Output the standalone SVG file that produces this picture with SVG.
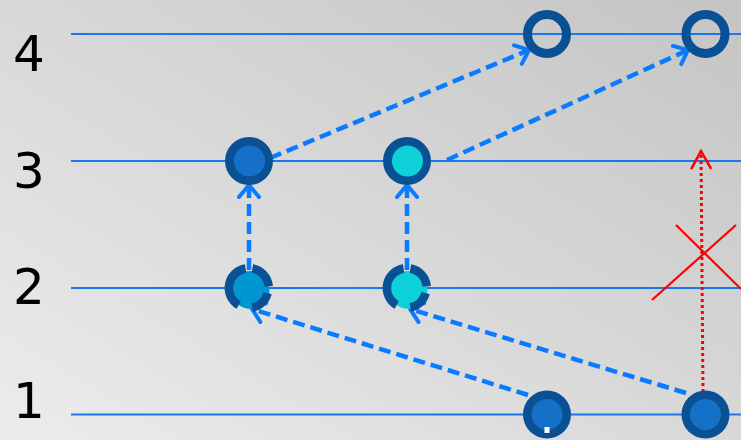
<svg xmlns="http://www.w3.org/2000/svg" width="741" height="440" viewBox="0 0 741 440">
  <defs>
    <linearGradient id="bg" x1="1" y1="0" x2="0" y2="1">
      <stop offset="0" stop-color="#c4c4c4"/>
      <stop offset="0.55" stop-color="#dadada"/>
      <stop offset="1" stop-color="#ececec"/>
    </linearGradient>
    <marker id="ah" markerUnits="userSpaceOnUse" markerWidth="30" markerHeight="30" refX="14" refY="12" orient="auto" viewBox="0 0 30 30">
      <path d="M2,2 L14,12 L2,22" fill="none" stroke="#0a7aff" stroke-width="4" stroke-linecap="round" stroke-linejoin="round"/>
    </marker>
    <marker id="ahr" markerUnits="userSpaceOnUse" markerWidth="40" markerHeight="40" refX="20" refY="15" orient="auto" viewBox="0 0 40 40">
      <path d="M2,5 L20,15 L2,25" fill="none" stroke="#ff0000" stroke-width="2.5"/>
    </marker>
  </defs>
  <style>
    .lvl { stroke: #1a78ea; stroke-width: 2.2; }
    .num { font-family: "DejaVu Sans", Verdana, sans-serif; font-size: 50px; fill: #000; text-anchor: middle; }
    .ring { fill: none; stroke: #0a5094; stroke-width: 9; }
    .arc { fill: none; stroke: #0a5094; stroke-width: 8.5; }
    .blue { fill: #1570c8; }
    .cyan { fill: #0ed0d8; }
    .teal { fill: #0096d2; }
    .conn { fill: none; stroke: #0a7aff; stroke-width: 4.5; stroke-dasharray: 12 6; marker-end: url(#ah); }
    .red { fill: none; stroke: #ff0000; stroke-width: 2.2; }
  </style>
  <rect width="741" height="440" fill="url(#bg)"/>

  <g id="levels">
    <line class="lvl" x1="71" y1="34" x2="741" y2="34"/>
    <line class="lvl" x1="71" y1="161" x2="741" y2="161"/>
    <line class="lvl" x1="71" y1="288" x2="741" y2="288"/>
    <line class="lvl" x1="71" y1="414.5" x2="741" y2="414.5"/>
    <text class="num" x="29" y="71">4</text>
    <text class="num" x="29" y="188">3</text>
    <text class="num" x="29" y="304">2</text>
    <text class="num" x="29" y="418">1</text>
  </g>

  <g id="connectors">
    <line class="conn" x1="270" y1="158" x2="529" y2="50"/>
    <line class="conn" x1="447" y1="160" x2="688" y2="50"/>
    <line class="conn" x1="249" y1="270" x2="249" y2="185"/>
    <line class="conn" x1="407" y1="270" x2="407" y2="185"/>
    <line class="conn" x1="528" y1="395" x2="252" y2="309"/>
    <line class="conn" x1="686" y1="393" x2="410" y2="309"/>
    <line x1="703" y1="392" x2="701" y2="151" stroke="#ff0000" stroke-width="3" stroke-dasharray="3 3" marker-end="url(#ahr)"/>
    <line class="red" x1="676" y1="225" x2="741" y2="289"/>
    <line class="red" x1="736" y1="225" x2="652" y2="300"/>
  </g>

  <g id="n4a"><circle class="ring" cx="547" cy="34" r="19.5"/></g>
  <g id="n4b"><circle class="ring" cx="705.5" cy="34" r="19.5"/></g>

  <g id="n3a">
    <circle cx="249" cy="161" r="24" fill="#0a5094"/>
    <circle class="blue" cx="249.5" cy="161" r="15.5"/>
  </g>
  <g id="n3b">
    <circle cx="407" cy="161" r="24" fill="#0a5094"/>
    <circle class="cyan" cx="407.5" cy="161" r="15.5"/>
  </g>

  <g id="n2a">
    <circle class="teal" cx="250.5" cy="290" r="19"/>
    <path class="arc" d="M238.7,305.1 A19.75,19.75 0 0 1 245.6,268.5"/>
    <path class="arc" d="M252.4,268.5 A19.75,19.75 0 0 1 268.7,286.3"/>
    <path class="arc" d="M267.6,293.1 A19.75,19.75 0 0 1 252.4,307.5"/>
  </g>
  <g id="n2b">
    <circle class="cyan" cx="408.5" cy="290" r="19"/>
    <path class="arc" d="M396.7,305.1 A19.75,19.75 0 0 1 403.6,268.5"/>
    <path class="arc" d="M410.4,268.5 A19.75,19.75 0 0 1 426.7,286.3"/>
    <path class="arc" d="M425.6,293.1 A19.75,19.75 0 0 1 410.4,307.5"/>
  </g>

  <g id="n1a">
    <circle cx="547" cy="414.5" r="24" fill="#0a5094"/>
    <circle class="blue" cx="547" cy="414.5" r="15.5"/>
    <rect x="544.5" y="427" width="5" height="6" fill="#ffffff"/>
  </g>
  <g id="n1b">
    <circle cx="705.5" cy="414.5" r="24" fill="#0a5094"/>
    <circle class="blue" cx="705.5" cy="414.5" r="15.5"/>
  </g>
</svg>
